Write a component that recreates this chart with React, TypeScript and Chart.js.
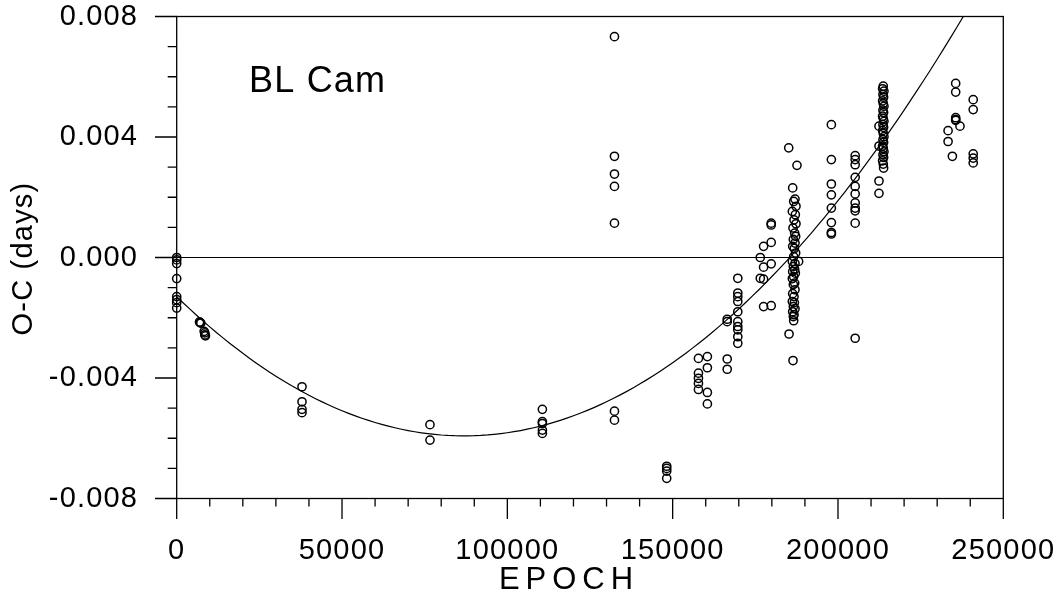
import React, { useEffect, useRef } from "react";
import { Chart, registerables } from "chart.js";

Chart.register(...registerables);

// ---- data ----
const EPOCH: number[] = [
  0, 0, 0, 0, 0, 0, 0, 0,
  6900, 7100, 7300,
  8300, 8500, 8500, 8700,
  37900, 37900, 37900, 37900,
  76600, 76600,
  110600, 110600, 110600, 110600, 110600,
  132400, 132400, 132400, 132400, 132400, 132400, 132400,
  148200, 148200, 148200, 148200,
  157800, 157800, 157800, 157800, 157800,
  160500, 160500, 160500, 160500,
  166500, 166500, 166500, 166500,
  169700, 169700, 169700, 169700, 169700, 169700, 169700, 169700, 169700, 169700,
  176500, 176500,
  177500, 177500, 177500, 177500,
  179800, 179800, 179800, 179800, 179800,
  185100,
  186300, 187000, 186600, 187300, 186200, 187100, 186700, 187300, 186400, 186900,
  187200, 186500, 187000, 186300, 186800, 187200, 186600, 186200, 187000, 186500,
  186900, 186300, 187100, 186600, 186200, 186900, 186500, 187000, 186300, 186700,
  186200, 186800, 186500, 187000, 186300, 186700, 186500, 186600, 185200,
  187600, 188100, 186400,
  198000, 198000, 198000, 198000, 198000, 198000, 198000, 198000,
  205200, 205200, 205200, 205200, 205200, 205200, 205200, 205200, 205200, 205200, 205200,
  212400, 212400, 212400, 212400,
  213700, 213500, 213900, 213600, 213800, 213500, 213700, 213900, 213600, 213800,
  213500, 213700, 213900, 213600, 213800, 213500, 213700, 213900, 213600, 213800,
  213500, 213700, 213900, 213600, 213800, 213500, 213700, 213800,
  233300, 233300, 234600,
  235600, 235600, 235600, 235600, 235600, 236900,
  240900, 240900, 240900, 240900, 240900,
];

const OC_DAYS: number[] = [
  0.0, -0.00008, -0.0002, -0.0007, -0.0013, -0.0014, -0.0015, -0.00168,
  -0.00214, -0.00216, -0.00218,
  -0.00245, -0.0025, -0.00257, -0.0026,
  -0.00429, -0.00479, -0.00504, -0.00515,
  -0.00555, -0.00606,
  -0.00504, -0.00545, -0.00551, -0.00573, -0.00584,
  0.00733, 0.00336, 0.00277, 0.00236, 0.00114, -0.0051, -0.0054,
  -0.00693, -0.007, -0.00709, -0.00733,
  -0.00335, -0.00384, -0.00401, -0.00418, -0.00438,
  -0.00329, -0.00366, -0.00448, -0.00486,
  -0.00205, -0.00213, -0.00337, -0.00371,
  -0.00069, -0.00118, -0.0013, -0.00146, -0.0018, -0.00213, -0.00229, -0.0024, -0.00263, -0.00285,
  0.0, -0.00069,
  0.00037, -0.00032, -0.00072, -0.00163,
  0.00114, 0.00108, 0.0005, -0.00021, -0.0016,
  0.00364,
  0.00231, 0.00194, 0.00186, 0.0017, 0.00153, 0.00142, 0.00125, 0.00112, 0.00098, 0.00081,
  0.0007, 0.0006, 0.00048, 0.00037, 0.0003, 0.00015, 0.00003, -0.00013, -0.0002, -0.0003,
  -0.0004, -0.00047, -0.00052, -0.00063, -0.0007, -0.00085, -0.0009, -0.00107, -0.0012, -0.0013,
  -0.00146, -0.0015, -0.00163, -0.0017, -0.0018, -0.0019, -0.00196, -0.0021, -0.00254,
  0.00306, -0.00013, -0.00342,
  0.00441, 0.00325, 0.00244, 0.00208, 0.00164, 0.00116, 0.00083, 0.00078,
  0.00338, 0.00325, 0.00308, 0.00266, 0.00236, 0.00211, 0.00181, 0.00164, 0.00155, 0.00114, -0.00268,
  0.00436, 0.0037, 0.00254, 0.00213,
  0.00569, 0.0056, 0.00552, 0.00541, 0.00532, 0.0052, 0.00511, 0.00502, 0.00489, 0.00481,
  0.00469, 0.00461, 0.00452, 0.00441, 0.00432, 0.00421, 0.00412, 0.00401, 0.00391, 0.00382,
  0.0037, 0.00362, 0.00351, 0.00341, 0.00332, 0.00321, 0.0031, 0.00297,
  0.00421, 0.00385, 0.00336,
  0.00578, 0.00549, 0.00464, 0.00458, 0.00455, 0.00436,
  0.00524, 0.00491, 0.00344, 0.0033, 0.00314,
];

// quadratic ephemeris fit: O-C = A + B*E + C*E^2
const FIT_A = -0.0013;
const FIT_B = -1.0628e-7;
const FIT_C = 6.1106e-13;
const FIT_STEP = 2000;

const X_TICKS = [0, 10000, 20000, 30000, 40000, 50000, 60000, 70000, 80000, 90000, 100000,
  110000, 120000, 130000, 140000, 150000, 160000, 170000, 180000, 190000, 200000,
  210000, 220000, 230000, 240000, 250000];
const Y_TICKS = [-0.008, -0.007, -0.006, -0.005, -0.004, -0.003, -0.002, -0.001, 0,
  0.001, 0.002, 0.003, 0.004, 0.005, 0.006, 0.007, 0.008];
const ZERO_LINE_X = [0, 250000];

const TITLE_X = "EPOCH";
const TITLE_Y = "O-C (days)";
const STAR = "BL Cam";

const FONT = '"Liberation Sans", Arial, Helvetica, sans-serif';

const framePlugin = {
  id: "frame",
  beforeLayout(chart: any) {
    chart.ctx.letterSpacing = "1.2px";
  },
  beforeDraw(chart: any) {
    chart.ctx.letterSpacing = "1.2px";
  },
  afterDraw(chart: any) {
    const { ctx, chartArea: a, scales } = chart;
    const xs = scales.x;
    const ys = scales.y;
    ctx.save();
    ctx.strokeStyle = "#000";
    ctx.lineWidth = 1.3;
    ctx.strokeRect(a.left, a.top, a.right - a.left, a.bottom - a.top);
    ctx.beginPath();
    for (const v of Y_TICKS) {
      const py = ys.getPixelForValue(v);
      const major = Math.abs(v / 0.004 - Math.round(v / 0.004)) < 1e-6;
      ctx.moveTo(a.left - (major ? 21.7 : 9), py);
      ctx.lineTo(a.left, py);
    }
    for (const v of X_TICKS) {
      const px = xs.getPixelForValue(v);
      const major = v % 50000 === 0;
      ctx.moveTo(px, a.bottom);
      ctx.lineTo(px, a.bottom + (major ? 20.5 : 8));
    }
    ctx.stroke();

    ctx.fillStyle = "#000";
    ctx.textBaseline = "alphabetic";
    // x title
    ctx.font = `31px ${FONT}`;
    ctx.letterSpacing = "6px";
    ctx.textAlign = "center";
    ctx.fillText(TITLE_X, 569, 589);
    // y title
    ctx.save();
    ctx.font = `29px ${FONT}`;
    ctx.letterSpacing = "1.2px";
    ctx.translate(32, 258.5);
    ctx.rotate(-Math.PI / 2);
    ctx.textAlign = "center";
    ctx.fillText(TITLE_Y, 0, 0);
    ctx.restore();
    // star name
    ctx.font = `36px ${FONT}`;
    ctx.letterSpacing = "1.2px";
    ctx.textAlign = "left";
    ctx.fillText(STAR, 249, 91.7);
    ctx.restore();
  },
};

export default function App() {
  const ref = useRef<HTMLCanvasElement | null>(null);

  useEffect(() => {
    if (!ref.current) return;
    const points = EPOCH.map((e, i) => ({ x: e, y: OC_DAYS[i] }));
    const fit: { x: number; y: number }[] = [];
    for (let e = 0; e <= 250000; e += FIT_STEP) {
      fit.push({ x: e, y: FIT_A + FIT_B * e + FIT_C * e * e });
    }
    const zero = ZERO_LINE_X.map((e) => ({ x: e, y: 0 }));

    const chart = new Chart(ref.current, {
      type: "scatter",
      data: {
        datasets: [
          {
            type: "line",
            data: fit,
            borderColor: "#000",
            borderWidth: 1.2,
            pointRadius: 0,
            fill: false,
            tension: 0,
          } as any,
          {
            type: "line",
            data: zero,
            borderColor: "#000",
            borderWidth: 1.2,
            pointRadius: 0,
            fill: false,
          } as any,
          {
            type: "scatter",
            data: points,
            pointRadius: 4.1,
            borderWidth: 1.5,
            borderColor: "#000",
            backgroundColor: "rgba(0,0,0,0)",
            pointStyle: "circle",
            clip: false,
          } as any,
        ],
      },
      options: {
        responsive: false,
        animation: false,
        devicePixelRatio: 1,
        layout: { padding: { top: 16.5, right: 57.7, left: 0, bottom: 0 } },
        plugins: {
          legend: { display: false },
          tooltip: { enabled: false },
          title: { display: false },
        },
        scales: {
          x: {
            type: "linear",
            position: "bottom",
            min: 0,
            max: 250000,
            afterFit: (s: any) => {
              s.height = 115.5;
              s.paddingLeft = 0;
              s.paddingRight = 0;
            },
            grid: { display: false, drawTicks: false },
            border: { display: false },
            ticks: {
              stepSize: 50000,
              autoSkip: false,
              maxRotation: 0,
              padding: 35,
              color: "#000",
              font: { family: FONT, size: 29 },
              callback: (v: any) => String(v),
            },
          },
          y: {
            type: "linear",
            min: -0.008,
            max: 0.008,
            afterFit: (s: any) => {
              s.width = 176.7;
              s.paddingTop = 0;
              s.paddingBottom = 0;
            },
            grid: { display: false, drawTicks: false },
            border: { display: false },
            ticks: {
              stepSize: 0.004,
              autoSkip: false,
              padding: 38.5,
              color: "#000",
              font: { family: FONT, size: 29 },
              callback: (v: any) => (Math.abs(v) < 1e-12 ? "0.000" : Number(v).toFixed(3)),
            },
          },
        },
      } as any,
      plugins: [framePlugin],
    });
    return () => chart.destroy();
  }, []);

  return (
    <div style={{ position: "absolute", left: 0, top: 0, width: 1061, height: 614, background: "#fff" }}>
      <canvas ref={ref} width={1061} height={614} style={{ display: "block" }} />
    </div>
  );
}
